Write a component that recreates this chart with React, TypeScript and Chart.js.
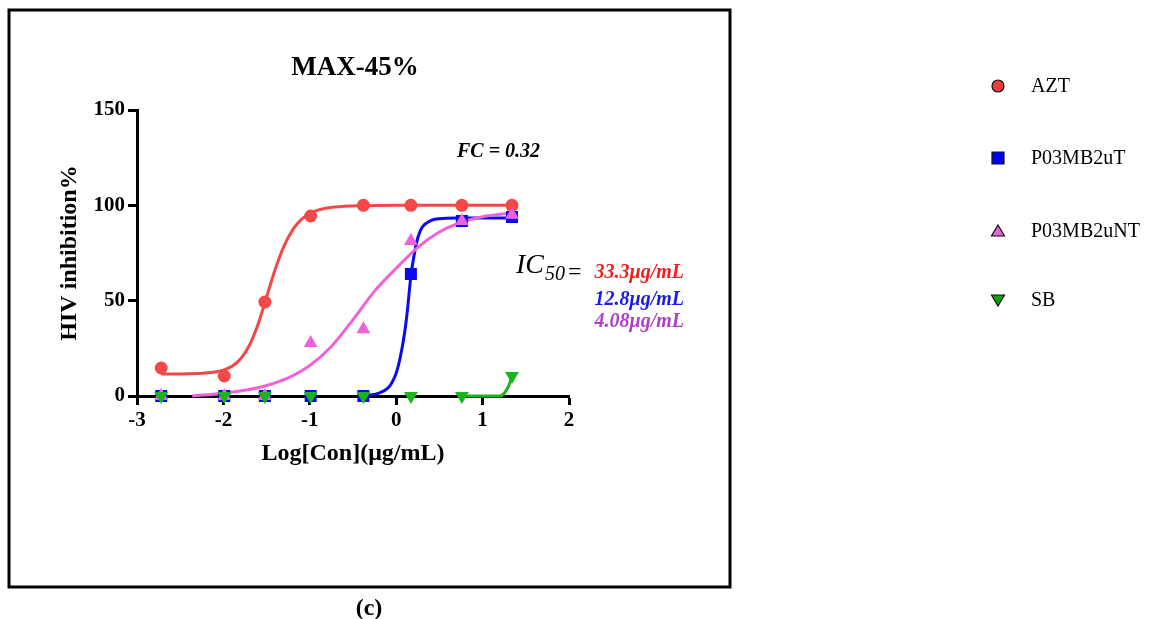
import React, { useEffect, useRef } from "react";
import { Chart, registerables } from "chart.js";

Chart.register(...registerables);

// ---- data ----
const doseLog = [-2.72, -1.99, -1.52, -0.99, -0.38, 0.17, 0.76, 1.34];
const aztValues = [14.7, 10.5, 49.3, 94.4, 100, 100, 100, 100];
const p03tValues = [0, 0, 0, 0, 0, 64, 91.8, 93.9];
const p03ntValues = [0, 0, 0, 27.8, 35, 81.3, 91.8, 95];
const sbValues = [0, 0, 0, 0, 0, 0, 0, 10.5];

// fitted curves
const aztCurveX = [-2.72, -2.5, -2.3, -2.1, -2.0, -1.9, -1.8, -1.7, -1.6, -1.5, -1.4, -1.3, -1.2, -1.1, -1.0, -0.9, -0.8, -0.6, -0.4, 0, 0.5, 1.0, 1.34];
const aztCurveY = [11.6, 11.6, 11.8, 12.6, 13.6, 15.6, 19.5, 26.5, 37.5, 52, 66.5, 78.5, 87, 92.5, 95.7, 97.6, 98.6, 99.5, 99.8, 100, 100, 100, 100];
const p03tCurveX = [-0.45, -0.3, -0.2, -0.1, -0.05, 0, 0.05, 0.1, 0.13, 0.17, 0.2, 0.25, 0.3, 0.4, 0.5, 0.7, 1.0, 1.34];
const p03tCurveY = [0, 0.5, 1.5, 4, 7, 12, 21, 34, 45, 63, 72, 83, 88.5, 92, 93, 93.4, 93.4, 93.4];
const p03ntCurveX = [-2.36, -2.0, -1.75, -1.5, -1.25, -1.0, -0.75, -0.5, -0.25, 0, 0.25, 0.5, 0.75, 1.0, 1.34];
const p03ntCurveY = [0, 1.5, 3, 5.5, 9.5, 16, 26, 40, 55, 67, 78, 86, 91, 94, 96];
const sbCurveX = [0.8, 1.2, 1.25, 1.3, 1.34];
const sbCurveY = [0, 0, 1.5, 5, 10.5];

const seriesNames = ["AZT", "P03MB2uT", "P03MB2uNT", "SB"];
const seriesColors = ["#F24848", "#0A0AF2", "#F062DA", "#1CB41C"];
const legendColors = ["#F03C3C", "#0000F0", "#E466D4", "#10A010"];
const xTicks = [-3, -2, -1, 0, 1, 2];
const yTicks = [0, 50, 100, 150];
const ic50Values = ["33.3\u03bcg/mL", "12.8\u03bcg/mL", "4.08\u03bcg/mL"];
const ic50Colors = ["#F21E1E", "#1A1AE8", "#B040C8"];
const fcLabel = "FC = 0.32";
const chartTitle = "MAX-45%";
const panelLabel = "(c)";
const xTitle = "Log[Con](\u03bcg/mL)";
const yTitle = "HIV inhibition%";

const FONT = "'Liberation Serif', 'Times New Roman', serif";

function toPoints(xs: number[], ys: number[]) {
  return xs.map((x, i) => ({ x, y: ys[i] }));
}

function drawMarker(ctx: CanvasRenderingContext2D, kind: number, x: number, y: number, fill: string) {
  ctx.beginPath();
  if (kind === 0) {
    ctx.arc(x, y, 6, 0, Math.PI * 2);
  } else if (kind === 1) {
    ctx.rect(x - 6, y - 6, 12, 12);
  } else if (kind === 2) {
    ctx.moveTo(x, y - 6);
    ctx.lineTo(x + 6.5, y + 5);
    ctx.lineTo(x - 6.5, y + 5);
    ctx.closePath();
  } else {
    ctx.moveTo(x, y + 6);
    ctx.lineTo(x + 6.5, y - 5);
    ctx.lineTo(x - 6.5, y - 5);
    ctx.closePath();
  }
  ctx.fillStyle = fill;
  ctx.fill();
  ctx.lineWidth = 1.2;
  ctx.strokeStyle = "#111";
  ctx.stroke();
}

const decorPlugin = {
  id: "decor",
  beforeDraw(chart: any) {
    const ctx = chart.ctx;
    ctx.save();
    ctx.fillStyle = "#fff";
    ctx.fillRect(0, 0, chart.width, chart.height);
    ctx.restore();
  },
  afterDraw(chart: any) {
    const ctx: CanvasRenderingContext2D = chart.ctx;
    ctx.save();
    // panel frame
    ctx.strokeStyle = "#000";
    ctx.lineWidth = 3;
    ctx.strokeRect(9, 10, 721, 577);

    // title
    ctx.fillStyle = "#000";
    ctx.textAlign = "center";
    ctx.textBaseline = "alphabetic";
    ctx.font = `bold 27px ${FONT}`;
    ctx.fillText(chartTitle, 355, 75);

    // FC label
    ctx.textAlign = "left";
    ctx.font = `italic bold 20px ${FONT}`;
    ctx.fillText(fcLabel, 457, 157);

    // IC50
    ctx.font = `italic 28px ${FONT}`;
    ctx.fillText("IC", 516, 273);
    ctx.font = `italic 20px ${FONT}`;
    ctx.fillText("50", 545, 280);
    ctx.font = `24px ${FONT}`;
    ctx.fillText("=", 568, 279);

    ctx.textAlign = "right";
    ctx.font = `italic bold 20px ${FONT}`;
    const baselines = [278, 305, 327];
    ic50Values.forEach((t, i) => {
      ctx.fillStyle = ic50Colors[i];
      ctx.fillText(t, 684, baselines[i]);
    });

    // caption
    ctx.fillStyle = "#000";
    ctx.textAlign = "center";
    ctx.textBaseline = "middle";
    ctx.font = `bold 24px ${FONT}`;
    ctx.fillText(panelLabel, 369, 609);

    // legend
    const ly = [86, 158, 231, 300];
    ctx.textAlign = "left";
    ctx.textBaseline = "middle";
    ctx.font = `20px ${FONT}`;
    seriesNames.forEach((name, i) => {
      drawMarker(ctx, i, 998, ly[i], legendColors[i]);
      ctx.fillStyle = "#000";
      ctx.fillText(name, 1031, ly[i] + 1);
    });
    ctx.restore();
  },
};

export default function App() {
  const ref = useRef<HTMLCanvasElement | null>(null);

  useEffect(() => {
    if (!ref.current) return;
    const pointStyles = ["circle", "rect", "triangle", "triangle"];
    const pointRadii = [6.5, 8.5, 8, 8];
    const rotations = [0, 0, 0, 180];
    const pointSeries = [aztValues, p03tValues, p03ntValues, sbValues];
    const curves = [
      [aztCurveX, aztCurveY],
      [p03tCurveX, p03tCurveY],
      [p03ntCurveX, p03ntCurveY],
      [sbCurveX, sbCurveY],
    ];

    const datasets: any[] = [];
    curves.forEach(([cx, cy], i) => {
      datasets.push({
        label: seriesNames[i] + " fit",
        data: toPoints(cx, cy),
        showLine: true,
        borderColor: seriesColors[i],
        backgroundColor: seriesColors[i],
        borderWidth: 3,
        pointRadius: 0,
        cubicInterpolationMode: "monotone",
        fill: false,
        clip: false,
        order: 8 - i,
      });
    });
    pointSeries.forEach((vals, i) => {
      datasets.push({
        label: seriesNames[i],
        data: toPoints(doseLog, vals),
        showLine: false,
        pointStyle: pointStyles[i],
        pointRadius: pointRadii[i],
        pointRotation: rotations[i],
        pointBackgroundColor: seriesColors[i],
        pointBorderColor: seriesColors[i],
        pointBorderWidth: 0,
        clip: false,
        order: 4 - i,
      });
    });

    const chart = new Chart(ref.current, {
      type: "scatter",
      data: { datasets },
      options: {
        responsive: false,
        animation: false,
        devicePixelRatio: 1,
        layout: { padding: { left: 0, top: 110, right: 1160 - 569, bottom: 619 - 396 - 72 } },
        plugins: {
          legend: { display: false },
          tooltip: { enabled: false },
          title: { display: false },
        },
        scales: {
          x: {
            type: "linear",
            min: -3,
            max: 2,
            afterBuildTicks: (s: any) => {
              s.ticks = xTicks.map((v) => ({ value: v }));
            },
            afterFit: (s: any) => {
              s.height = 72;
            },
            grid: {
              drawOnChartArea: false,
              drawTicks: true,
              tickLength: 9,
              tickWidth: 3,
              tickColor: "#000",
            },
            border: { display: true, color: "#000", width: 3 },
            ticks: {
              color: "#000",
              padding: 3,
              autoSkip: false,
              maxRotation: 0,
              font: { family: FONT, size: 21, weight: "bold" },
            },
            title: {
              display: true,
              text: xTitle,
              color: "#000",
              padding: { top: 0, bottom: 0 },
              font: { family: FONT, size: 24, weight: "bold" },
            },
          },
          y: {
            type: "linear",
            min: 0,
            max: 150,
            afterBuildTicks: (s: any) => {
              s.ticks = yTicks.map((v) => ({ value: v }));
            },
            afterFit: (s: any) => {
              s.width = 137;
            },
            grid: {
              drawOnChartArea: false,
              drawTicks: true,
              tickLength: 9,
              tickWidth: 3,
              tickColor: "#000",
            },
            border: { display: true, color: "#000", width: 3 },
            ticks: {
              color: "#000",
              padding: 3,
              autoSkip: false,
              font: { family: FONT, size: 21, weight: "bold" },
            },
            title: {
              display: true,
              text: yTitle,
              color: "#000",
              padding: { top: 55, bottom: 0 },
              font: { family: FONT, size: 24, weight: "bold" },
            },
          },
        },
      } as any,
      plugins: [decorPlugin],
    });
    return () => chart.destroy();
  }, []);

  return (
    <div style={{ position: "absolute", left: 0, top: 0, width: 1160, height: 619, background: "#fff" }}>
      <canvas ref={ref} width={1160} height={619} style={{ display: "block", width: 1160, height: 619 }} />
    </div>
  );
}
